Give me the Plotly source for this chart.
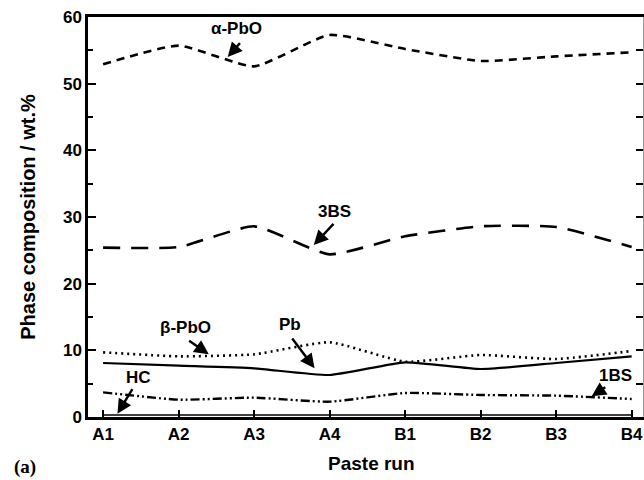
import plotly.graph_objects as go

runs = ["A1", "A2", "A3", "A4", "B1", "B2", "B3", "B4"]
alpha_pbo = [52.9, 55.7, 52.6, 57.3, 55.2, 53.4, 54.1, 54.7]
bs3 = [25.4, 25.5, 28.6, 24.4, 27.1, 28.6, 28.5, 25.5]
beta_pbo = [9.7, 9.1, 9.4, 11.2, 8.3, 9.3, 8.7, 9.9]
pb = [8.1, 7.7, 7.3, 6.3, 8.2, 7.2, 8.1, 9.1]
bs1 = [3.7, 2.6, 2.9, 2.3, 3.6, 3.3, 3.2, 2.7]
hc = [0.3, 0.3, 0.3, 0.3, 0.3, 0.3, 0.3, 0.3]

xi = list(range(len(runs)))

fig = go.Figure()
fig.add_trace(go.Scatter(x=xi, y=alpha_pbo, mode="lines", name="α-PbO",
                         line=dict(color="black", width=2.6, dash="8px,6px", shape="spline", smoothing=0.5)))
fig.add_trace(go.Scatter(x=xi, y=bs3, mode="lines", name="3BS",
                         line=dict(color="black", width=2.6, dash="17px,11px", shape="spline", smoothing=0.5)))
fig.add_trace(go.Scatter(x=xi, y=beta_pbo, mode="lines", name="β-PbO",
                         line=dict(color="black", width=2.6, dash="2px,4px", shape="spline", smoothing=0.5)))
fig.add_trace(go.Scatter(x=xi, y=pb, mode="lines", name="Pb",
                         line=dict(color="black", width=2.2, shape="spline", smoothing=0.5)))
fig.add_trace(go.Scatter(x=xi, y=bs1, mode="lines", name="1BS",
                         line=dict(color="black", width=2.4, dash="9px,3px,2px,3px,2px,3px", shape="spline", smoothing=0.5)))
fig.add_trace(go.Scatter(x=xi, y=hc, mode="lines", name="HC", yaxis="y2",
                         line=dict(color="black", width=1.5)))

tickfont = dict(family="Liberation Sans", size=17, color="black", weight="bold")

fig.update_layout(
    width=644, height=480,
    margin=dict(l=88, r=1, t=17, b=63),
    paper_bgcolor="white", plot_bgcolor="white",
    showlegend=False,
    xaxis=dict(range=[-0.2, 7.15], tickmode="array", tickvals=xi, ticktext=runs,
               ticks="inside", ticklen=7, tickwidth=2, tickcolor="black",
               showline=True, linecolor="black", linewidth=3, mirror=True,
               showgrid=False, zeroline=False, tickfont=tickfont, fixedrange=True),
    yaxis=dict(range=[0, 60], tickvals=[0, 10, 20, 30, 40, 50, 60],
               ticks="inside", ticklen=8, tickwidth=2, tickcolor="black",
               minor=dict(dtick=5, ticks="inside", ticklen=5, tickwidth=2, tickcolor="black"),
               showline=True, linecolor="black", linewidth=2.5,
               showgrid=False, zeroline=False, tickfont=tickfont,
               title=dict(text="Phase composition / wt.%", standoff=22,
                          font=dict(family="Liberation Sans", size=20, color="black", weight="bold"))),
    yaxis2=dict(range=[0, 60], overlaying="y", side="right", dtick=5,
                ticks="inside", ticklen=7, tickwidth=2, tickcolor="black",
                showticklabels=False, showline=True, linecolor="#999999", linewidth=1,
                showgrid=False, zeroline=False),
)

fig.add_annotation(text="Paste run", xref="paper", yref="paper", x=0.51, y=-0.115,
                   showarrow=False, yanchor="middle",
                   font=dict(family="Liberation Sans", size=19, color="black", weight="bold"))
fig.add_annotation(text="(a)", xref="paper", yref="paper", x=-0.137, y=-0.125,
                   showarrow=False, xanchor="left", yanchor="middle",
                   font=dict(family="Liberation Serif", size=19, color="black", weight="bold"))

labels = [
    ("α-PbO", 1.76, 58.3, 1.83, 56.3, 1.65, 54.0),
    ("3BS", 3.07, 30.8, 3.07, 29.2, 2.79, 25.8),
    ("β-PbO", 1.09, 13.4, 1.12, 11.6, 1.40, 9.4),
    ("Pb", 2.47, 13.9, 2.49, 12.0, 2.80, 7.3),
    ("HC", 0.47, 6.0, 0.40, 4.4, 0.19, 0.5),
    ("1BS", 6.79, 6.3, 6.67, 4.6, 6.47, 3.1),
]
afont = dict(family="Liberation Sans", size=17, color="black", weight="bold")
for txt, tx, ty, ax, ay, hx, hy in labels:
    fig.add_annotation(text=txt, x=tx, y=ty, showarrow=False, font=afont)
    fig.add_annotation(text="", x=hx, y=hy, ax=ax, ay=ay, axref="x", ayref="y",
                       showarrow=True, arrowhead=2, arrowsize=1.2, arrowwidth=2.4,
                       arrowcolor="black")

fig.write_html("out.html")
